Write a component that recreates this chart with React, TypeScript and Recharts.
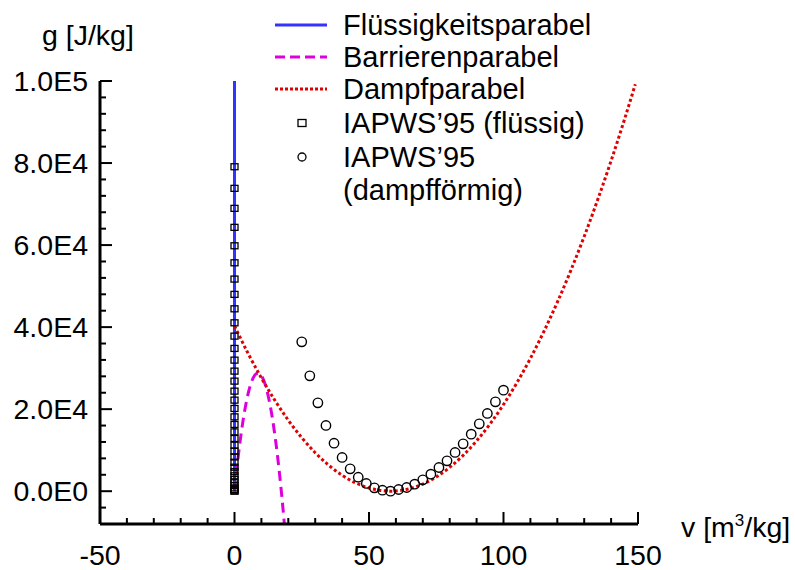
import { ComposedChart, Legend, Line, Scatter, XAxis, YAxis } from "recharts";

const FONT = '"Liberation Sans", Arial, Helvetica, sans-serif';

// axis ticks
const xTicks = [-50, -40, -30, -20, -10, 0, 10, 20, 30, 40, 50, 60, 70, 80, 90, 100, 110, 120, 130, 140, 150];
const xMajorTicks = [-50, 0, 50, 100, 150];
const xTickLabels = ["-50", "0", "50", "100", "150"];
const yTicks = [
  -8000, -4000, 0, 4000, 8000, 12000, 16000, 20000, 24000, 28000, 32000, 36000, 40000, 44000,
  48000, 52000, 56000, 60000, 64000, 68000, 72000, 76000, 80000, 84000, 88000, 92000, 96000, 100000,
];
const yMajorTicks = [0, 20000, 40000, 60000, 80000, 100000];
const yTickLabels = ["0.0E0", "2.0E4", "4.0E4", "6.0E4", "8.0E4", "1.0E5"];

// Flüssigkeitsparabel (practically vertical at v ~ 0)
const liquidV = [0, 0];
const liquidG = [0, 100000];

// Barrierenparabel
const barrierV = [0, 1, 2, 3, 4, 5, 6, 7, 8, 9, 10, 11, 12, 13, 14, 15, 16, 17, 18, 19];
const barrierG = [
  0, 6270, 11740, 16450, 20410, 23600, 26030, 27700, 28610, 28770, 28160, 26790, 24660, 21770, 18130,
  13720, 8550, 2620, -4070, -11510,
];

// Dampfparabel
const vaporV = [0, 5, 10, 15, 20, 25, 30, 35, 40, 45, 50, 55, 58, 60, 65, 70, 75, 80, 85, 90, 95, 100, 105, 110, 115, 120, 125, 130, 135, 140, 145, 149];
const vaporG = [
  40300, 33650, 27600, 22150, 17300, 13050, 9390, 6340, 3880, 2020, 770, 110, 0, 50, 590, 1730, 3460,
  5800, 8730, 12270, 16400, 21130, 26460, 32390, 38920, 46050, 53780, 62100, 71030, 80550, 90680, 99200,
];

// IAPWS'95 (flüssig)
const iapwsLiquidV = [
  0, 0, 0, 0, 0, 0, 0, 0, 0, 0, 0, 0, 0, 0, 0, 0, 0, 0, 0, 0, 0, 0, 0, 0, 0, 0, 0, 0, 0, 0, 0, 0, 0, 0, 0, 0,
];
const iapwsLiquidG = [
  0, 100, 400, 800, 1350, 2050, 2850, 3750, 4750, 5850, 7050, 8350, 9750, 11220, 12850, 14460, 16270,
  18120, 20170, 22200, 24390, 26830, 29270, 31950, 34800, 37800, 41050, 44460, 47980, 51710, 55680,
  59830, 64320, 68950, 73830, 79100,
];

// IAPWS'95 (dampfförmig)
const iapwsVaporV = [25, 28, 31, 34, 37, 40, 43, 46, 49, 52, 55, 58, 61, 64, 67, 70, 73, 76, 79, 82, 85, 88, 91, 94, 97, 100];
const iapwsVaporG = [
  36410, 28120, 21540, 16020, 11700, 8220, 5440, 3410, 1880, 810, 240, 0, 410, 900, 1710, 2760, 4150,
  5780, 7390, 9440, 11540, 13900, 16410, 18950, 21780, 24630,
];

const legendItems = [
  { name: "Flüssigkeitsparabel", kind: "solid" },
  { name: "Barrierenparabel", kind: "dashed" },
  { name: "Dampfparabel", kind: "dotted" },
  { name: "IAPWS’95 (flüssig)", kind: "square" },
  { name: "IAPWS’95", kind: "circle" },
  { name: "(dampfförmig)", kind: "none" },
];

const BLUE = "#3333ff";
const MAGENTA = "#dd00dd";
const RED = "#e00000";

const zip = (vs: number[], gs: number[]) => vs.map((v, i) => ({ v, g: gs[i] }));

const liquidData = zip(liquidV, liquidG);
const barrierData = zip(barrierV, barrierG);
const vaporData = zip(vaporV, vaporG);
const iapwsLiquidData = zip(iapwsLiquidV, iapwsLiquidG);
const iapwsVaporData = zip(iapwsVaporV, iapwsVaporG);

function XTick(props: any) {
  const { x, y, payload } = props;
  const idx = xMajorTicks.indexOf(payload.value);
  const major = idx >= 0;
  return (
    <g>
      <line x1={x} y1={y} x2={x} y2={y - (major ? 12 : 6)} stroke="#000" strokeWidth={2} />
      {major && (
        <text x={x} y={y + 41} textAnchor="middle" fontSize={28.5} fontFamily={FONT} fill="#000">
          {xTickLabels[idx]}
        </text>
      )}
    </g>
  );
}

function YTick(props: any) {
  const { x, y, payload } = props;
  const idx = yMajorTicks.indexOf(payload.value);
  const major = idx >= 0;
  return (
    <g>
      <line x1={x} y1={y} x2={x + (major ? 12 : 6)} y2={y} stroke="#000" strokeWidth={2} />
      {major && (
        <text x={x - 12} y={y + 10} textAnchor="end" fontSize={28.5} fontFamily={FONT} fill="#000">
          {yTickLabels[idx]}
        </text>
      )}
    </g>
  );
}

function YTitle(props: any) {
  const vb = props.viewBox;
  return (
    <text x={vb.x + 42} y={vb.y - 36} fontSize={28.5} fontFamily={FONT} fill="#000">
      g [J/kg]
    </text>
  );
}

function XTitle(props: any) {
  const vb = props.viewBox;
  return (
    <text x={vb.x + vb.width + 43} y={vb.y + 13} fontSize={28.5} fontFamily={FONT} fill="#000">
      <tspan>v [m</tspan>
      <tspan fontSize={17} dy={-11}>3</tspan>
      <tspan dy={11}>/kg]</tspan>
    </text>
  );
}

function SquareMark(props: any) {
  const { cx, cy } = props;
  return <rect x={cx - 3.5} y={cy - 3} width={7} height={6} fill="none" stroke="#000" strokeWidth={1.3} />;
}

function CircleMark(props: any) {
  const { cx, cy } = props;
  return <circle cx={cx} cy={cy} r={4.7} fill="none" stroke="#000" strokeWidth={1.4} />;
}

function LegendBox() {
  const rowY = [25, 57, 89, 123, 157, 190];
  return (
    <svg width={340} height={210} style={{ display: "block" }}>
      {legendItems.map((item, i) => {
        const y = rowY[i];
        let sample = null;
        if (item.kind === "solid") sample = <line x1={15} x2={67} y1={y} y2={y} stroke={BLUE} strokeWidth={3} />;
        if (item.kind === "dashed")
          sample = <line x1={15} x2={67} y1={y} y2={y} stroke={MAGENTA} strokeWidth={3} strokeDasharray="10 5" />;
        if (item.kind === "dotted")
          sample = <line x1={15} x2={67} y1={y} y2={y} stroke={RED} strokeWidth={3} strokeDasharray="3 2" />;
        if (item.kind === "square")
          sample = <rect x={38} y={y - 3.5} width={8} height={7} fill="none" stroke="#000" strokeWidth={1.3} />;
        if (item.kind === "circle") sample = <circle cx={42} cy={y} r={4} fill="none" stroke="#000" strokeWidth={1.3} />;
        return (
          <g key={item.name}>
            {sample}
            <text x={83} y={y + 10} fontSize={29} fontFamily={FONT} fill="#000">
              {item.name}
            </text>
          </g>
        );
      })}
    </svg>
  );
}

export default function App() {
  return (
    <div style={{ position: "absolute", left: 0, top: 0, width: 795, height: 570, background: "#fff", fontFamily: FONT }}>
      <ComposedChart width={795} height={570} margin={{ top: 81, right: 157, bottom: 0, left: 0 }}>
        <XAxis
          type="number"
          dataKey="v"
          domain={[-50, 150]}
          ticks={xTicks}
          interval={0}
          tick={XTick}
          tickLine={false}
          tickSize={0}
          tickMargin={0}
          axisLine={{ stroke: "#000", strokeWidth: 3 }}
          height={46}
          allowDataOverflow
          label={XTitle}
        />
        <YAxis
          type="number"
          dataKey="g"
          domain={[-8000, 100000]}
          ticks={yTicks}
          interval={0}
          tick={YTick}
          tickLine={false}
          tickSize={0}
          tickMargin={0}
          axisLine={{ stroke: "#000", strokeWidth: 3 }}
          width={100}
          allowDataOverflow
          label={YTitle}
        />
        <Legend
          layout="vertical"
          align="center"
          verticalAlign="middle"
          content={LegendBox}
          wrapperStyle={{ left: 260, top: 0, width: 340, height: 210 }}
        />
        <Scatter name="IAPWS’95 (flüssig)" data={iapwsLiquidData} dataKey="g" shape={SquareMark} isAnimationActive={false} />
        <Scatter name="IAPWS’95 (dampfförmig)" data={iapwsVaporData} dataKey="g" shape={CircleMark} isAnimationActive={false} />
        <Line
          name="Flüssigkeitsparabel"
          data={liquidData}
          dataKey="g"
          type="linear"
          stroke={BLUE}
          strokeWidth={3}
          dot={false}
          isAnimationActive={false}
        />
        <Line
          name="Barrierenparabel"
          data={barrierData}
          dataKey="g"
          type="monotone"
          stroke={MAGENTA}
          strokeWidth={3}
          strokeDasharray="10 6"
          dot={false}
          isAnimationActive={false}
        />
        <Line
          name="Dampfparabel"
          data={vaporData}
          dataKey="g"
          type="monotone"
          stroke={RED}
          strokeWidth={3}
          strokeDasharray="3 2.5"
          dot={false}
          isAnimationActive={false}
        />
      </ComposedChart>
    </div>
  );
}
